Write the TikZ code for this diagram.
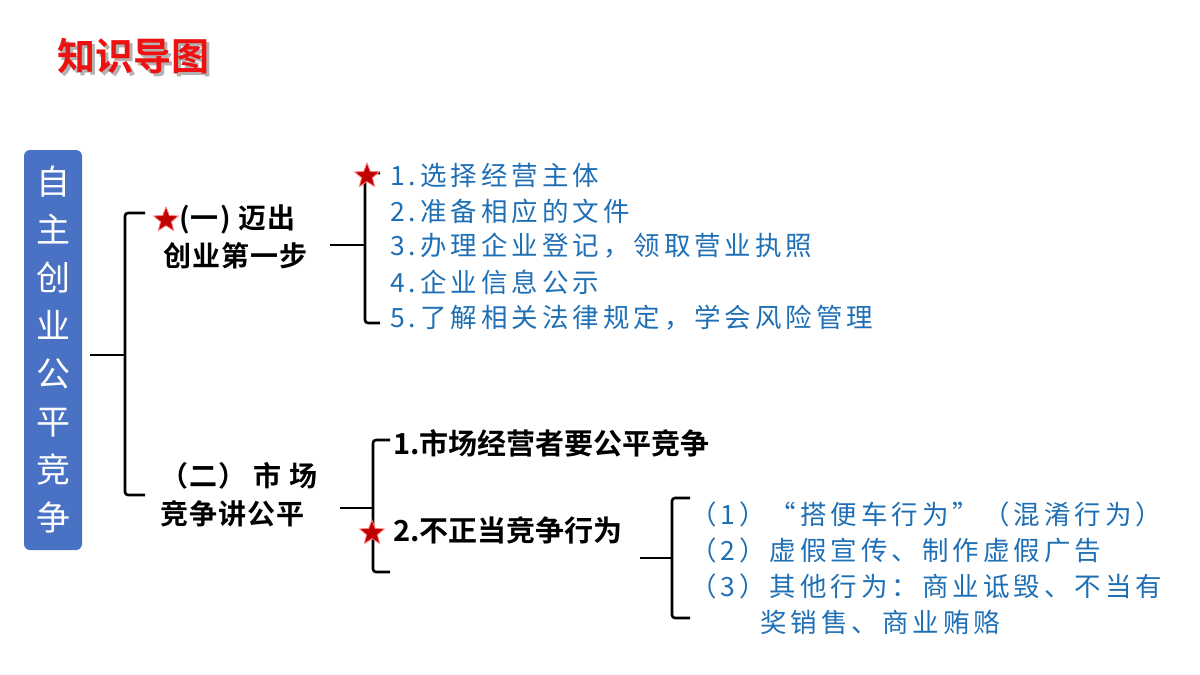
\documentclass[tikz,border=0pt]{standalone}
\usepackage{fontspec}
\setmainfont{Noto Sans CJK SC}[BoldFont={Noto Sans CJK SC Bold}]
\usetikzlibrary{shapes.geometric,positioning}
\definecolor{boxblue}{HTML}{4A72C4}
\definecolor{itemblue}{HTML}{1F6FB5}
\definecolor{titlered}{HTML}{EE1111}
\tikzset{
  brace/.style={line width=2.6pt, rounded corners=3pt},
  head/.style={font=\fontsize{28}{38}\selectfont\bfseries\addfontfeature{LetterSpace=4}, anchor=west, align=left, inner sep=0pt},
  item/.style={font=\fontsize{26.5}{36}\selectfont\addfontfeature{LetterSpace=15}, text=itemblue, anchor=west, inner sep=0pt},
  redstar/.style={star, star points=5, star point ratio=2.3, minimum size=26pt, inner sep=0pt, fill=red!75!black, draw=red!50, line width=0.8pt}
}
\begin{document}
\begin{tikzpicture}[x=1pt,y=-1pt]
\useasboundingbox (0,0) rectangle (1200,675);
% title
\node[font=\fontsize{38}{40}\selectfont\bfseries, text=black!30, anchor=west, inner sep=0pt] at (60,59) {知识导图};
\node[font=\fontsize{38}{40}\selectfont\bfseries, text=titlered, anchor=west, inner sep=0pt] (title) at (57,56) {知识导图};
% left box
\node[fill=boxblue, rounded corners=6pt, minimum width=58pt, minimum height=400pt, inner sep=0pt] (root) at (53,350) {};
\node[font=\fontsize{34}{48}\selectfont, text=white, align=center] at (root) {自\\主\\创\\业\\公\\平\\竞\\争};
% main bracket
\draw[brace] (90,355) -- (125,355);
\draw[brace] (145,213) -- (125,213) -- (125,495) -- (145,495);
% part one
\node[head] (p1) at (163,237) {\hspace*{16pt}(一) 迈出\\创业第一步};
\node[redstar] at (166,220) {};
\draw[brace] (330,245) -- (365,245);
\draw[brace] (380,173) -- (365,173) -- (365,323) -- (380,323);
\node[item] (a1) at (390,175) {1.选择经营主体};
\node[item] (a2) at (390,211) {2.准备相应的文件};
\node[item] (a3) at (390,246) {3.办理企业登记，领取营业执照};
\node[item] (a4) at (390,282) {4.企业信息公示};
\node[item] (a5) at (390,318) {5.了解相关法律规定，学会风险管理};
\node[redstar] at (367,176) {};
% part two
\node[head] (p2) at (160,495) {（二） 市 场\\竞争讲公平};
\draw[brace] (340,508) -- (373,508);
\draw[brace] (390,440) -- (373,440) -- (373,572) -- (390,572);
\node[head, font=\fontsize{29}{30}\selectfont\bfseries] (b1) at (393,443) {1.市场经营者要公平竞争};
\node[head, font=\fontsize{29}{30}\selectfont\bfseries] (b2) at (393,530) {2.不正当竞争行为};
\node[redstar] at (372,533) {};
\draw[brace] (640,558) -- (672,558);
\draw[brace] (690,498) -- (672,498) -- (672,618) -- (690,618);
\node[item] (c1) at (690,514) {（1）“搭便车行为”（混淆行为）};
\node[item] (c2) at (690,550) {（2）虚假宣传、制作虚假广告};
\node[item] (c3) at (690,586) {（3）其他行为：商业诋毁、不当有};
\node[item] (c4) at (760,622) {奖销售、商业贿赂};
\end{tikzpicture}
\end{document}
